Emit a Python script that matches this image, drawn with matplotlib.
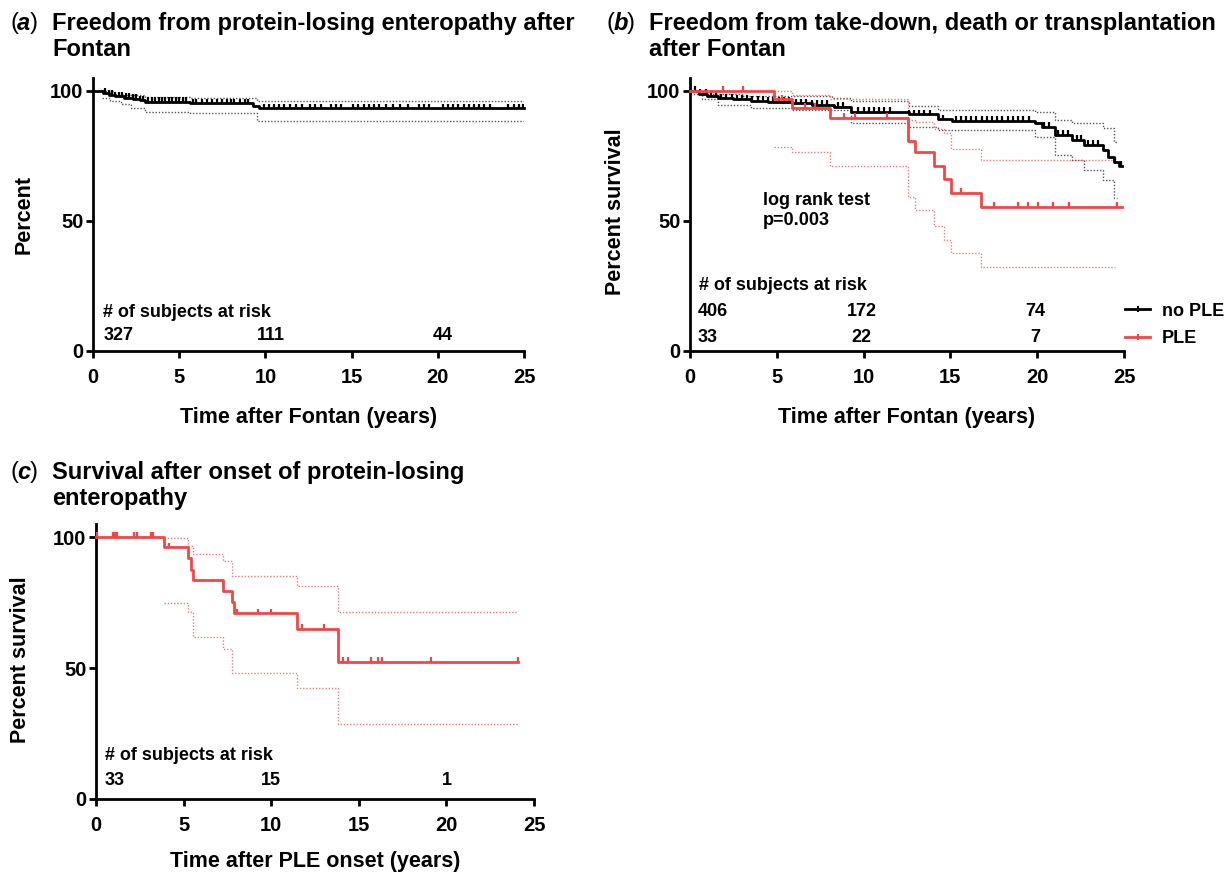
import numpy as np
import matplotlib
matplotlib.use("Agg")
import matplotlib.pyplot as plt
from matplotlib.lines import Line2D

plt.rcParams['font.family'] = ['Liberation Sans', 'DejaVu Sans']
plt.rcParams['font.weight'] = 'bold'

# ---------------- data ----------------
# Panel a: freedom from PLE after Fontan
a_t = [0, 0.6, 0.9, 1.3, 1.8, 2.3, 2.7, 3.0, 5.6, 9.3, 9.6, 25.0]
a_s = [100, 99.3, 98.6, 98.0, 97.4, 96.9, 96.4, 95.9, 95.3, 94.3, 93.3, 93.3]
a_up_t = [0.5, 1.2, 2.0, 3.0, 5.6, 9.5, 25.0]
a_up_s = [99.9, 99.0, 98.3, 97.8, 97.2, 96.3, 96.3]
a_lo_t = [0.5, 1.0, 1.6, 2.2, 3.0, 5.6, 9.5, 25.0]
a_lo_s = [97.2, 96.0, 95.0, 93.5, 92.0, 91.4, 88.6, 88.6]
a_cens = [0.7, 0.9, 1.1, 1.3, 1.5, 1.7, 1.9, 2.1, 2.3, 2.5, 2.7, 2.9,
          3.2, 3.4, 3.6, 3.8, 4.0, 4.2, 4.4, 4.6, 4.8, 5.0, 5.2, 5.4,
          5.8, 6.0, 6.3, 6.6, 6.9, 7.2, 7.5, 7.8, 8.0, 8.2, 8.5, 8.8, 9.0,
          9.9, 10.2, 10.5, 10.8, 11.1, 11.4, 11.8, 12.1, 12.6, 12.9, 13.2,
          13.8, 14.1, 14.4, 15.1, 15.4, 15.7, 16.0, 16.3, 16.6, 17.0, 17.4,
          17.8, 18.3, 18.9, 19.2, 19.5, 20.3, 20.6, 20.9, 21.2, 21.5, 21.8,
          22.1, 22.4, 22.7, 23.0, 24.1, 24.4, 24.7, 24.95]
a_risk_x = [0, 10, 20]
a_risk_n = ['327', '111', '44']

# Panel b: no PLE (black)
b0_t = [0, 0.5, 1.0, 1.6, 2.5, 3.5, 4.5, 5.9, 7.0, 8.3, 9.3, 12.6, 14.3, 15.1,
        19.9, 20.3, 21.0, 22.0, 22.7, 23.8, 24.1, 24.4, 24.7, 24.9]
b0_s = [100, 99.0, 98.2, 97.2, 96.8, 96.3, 95.8, 95.3, 94.7, 94.0, 92.0, 91.0, 89.1, 88.6,
        87.6, 86.3, 83.1, 81.2, 79.2, 77.3, 74.7, 72.8, 71.2, 71.2]
b0_up_t = [0, 1.0, 3.0, 8.2, 9.3, 12.6, 14.3, 19.9, 21.0, 22.0, 23.8, 24.4, 24.6]
b0_up_s = [100, 99.0, 98.2, 97.2, 96.0, 94.2, 92.7, 92.0, 88.8, 87.6, 85.6, 80.5, 80.5]
b0_lo_t = [0, 0.7, 1.6, 3.5, 5.9, 9.3, 12.6, 14.3, 19.9, 21.0, 22.0, 22.7, 23.8, 24.4, 24.6]
b0_lo_s = [99.0, 97.0, 94.6, 93.3, 92.7, 87.6, 86.3, 85.0, 82.4, 75.4, 73.5, 69.6, 65.8, 58.7, 58.7]
b0_cens = [0.3, 0.6, 0.9, 1.2, 1.5, 1.8, 2.1, 2.4, 2.7, 3.0, 3.3, 3.6, 3.9, 4.2, 4.5,
           4.8, 5.1, 5.4, 5.7, 6.1, 6.4, 6.7, 7.0, 7.3, 7.6, 7.9, 8.5, 8.8,
           9.7, 10.0, 10.3, 10.6, 10.9, 11.2, 11.5, 12.6, 12.9, 13.2, 13.5, 13.8,
           14.6, 15.3, 15.6, 15.9, 16.2, 16.5, 16.8, 17.1, 17.4, 17.7, 18.0, 18.3,
           18.6, 18.9, 19.2, 19.5, 20.4, 20.7, 21.2, 21.5, 21.8, 22.3, 22.5,
           22.9, 23.2, 23.5, 24.5, 24.8]
# Panel b: PLE (red)
b1_t = [0, 4.86, 5.85, 8.06, 12.57, 12.96, 14.07, 14.65, 15.01, 16.76, 24.87]
b1_s = [100, 96.8, 93.6, 89.7, 80.8, 76.7, 71.2, 66.3, 60.9, 55.5, 55.5]
b1_up_t = [4.86, 5.85, 8.06, 12.57, 12.96, 14.07, 14.65, 15.01, 16.76, 24.48]
b1_up_s = [100, 98.5, 96.8, 88.8, 88.0, 85.5, 83.7, 77.6, 73.5, 73.5]
b1_lo_t = [4.86, 5.85, 8.06, 12.57, 12.96, 14.07, 14.65, 15.01, 16.76, 24.48]
b1_lo_s = [78.6, 76.7, 71.2, 59.4, 54.2, 48.1, 42.7, 37.8, 32.2, 32.2]
b1_cens = [1.88, 3.07, 5.28, 6.62, 7.2, 8.89, 9.5, 11.33, 15.61, 17.53, 18.91,
           19.49, 20.03, 20.89, 21.83, 24.58]
b_risk_x = [0, 10, 20]
b_risk_noPLE = ['406', '172', '74']
b_risk_PLE = ['33', '22', '7']

# Panel c: survival after PLE onset
c_t = [0, 3.88, 5.23, 5.42, 5.52, 7.23, 7.78, 7.9, 11.45, 13.79, 24.07]
c_s = [100, 96.1, 91.9, 87.4, 83.6, 79.5, 75.3, 70.9, 65.1, 52.4, 52.4]
c_up_t = [3.88, 5.23, 5.52, 7.23, 7.78, 11.45, 13.79, 24.07]
c_up_s = [99.5, 96.5, 93.4, 90.8, 85.0, 81.3, 71.5, 71.5]
c_lo_t = [3.88, 5.23, 5.52, 7.23, 7.78, 11.45, 13.79, 24.07]
c_lo_s = [74.9, 71.5, 61.9, 57.3, 48.0, 42.3, 28.5, 28.5]
c_cens = [0.04, 0.95, 1.08, 1.18, 2.17, 2.32, 3.14, 3.27, 4.17, 8.03, 9.23, 9.97,
          11.76, 13.01, 14.12, 14.37, 15.7, 16.12, 16.3, 19.1, 24.07]
c_risk_x = [0, 10, 20]
c_risk_n = ['33', '15', '1']

RED = '#f44545'
RED_CI = '#f47a7a'
GREY_CI = '#555555'

TICK_FS = 14.5
LAB_FS = 15.5
TXT_FS = 13
TITLE_FS = 17

W, H = 1226, 873
fig = plt.figure(figsize=(W / 100, H / 100), dpi=100)


def fx(px):
    return px / W


def fy(py):
    return 1 - py / H


def make_ax(l, r, b, t):
    ax = fig.add_axes([fx(l), fy(b), fx(r) - fx(l), fy(t) - fy(b)])
    ax.set_xlim(0, 25)
    ax.set_ylim(0, 105)
    for s in ['top', 'right']:
        ax.spines[s].set_visible(False)
    for s in ['left', 'bottom']:
        ax.spines[s].set_linewidth(2.0)
    ax.set_xticks([0, 5, 10, 15, 20, 25])
    ax.set_yticks([0, 50, 100])
    ax.tick_params(width=2.0, length=5, labelsize=TICK_FS, direction='out')
    ax.tick_params(axis='x', pad=7)
    ax.tick_params(axis='y', pad=2)
    for lab in ax.get_xticklabels() + ax.get_yticklabels():
        lab.set_fontweight('bold')
    ax.margins(0)
    return ax


def surv_at(t, times, vals):
    i = np.searchsorted(times, t, side='right') - 1
    return vals[max(i, 0)]


def draw_km(ax, t, s, color, lw=2.0):
    ax.step(t, s, where='post', color=color, lw=lw, clip_on=False, zorder=3)


def draw_ci(ax, t, s, color):
    ax.step(t, s, where='post', color=color, lw=1.0, ls=(0, (1, 1.3)), zorder=2)


def draw_cens(ax, cens, t, s, color):
    ys = [surv_at(c, t, s) for c in cens]
    ax.vlines(cens, ys, [y + 1.8 for y in ys], color=color, lw=1.6, zorder=3)


def title(xpar, ypx, letter, text):
    fig.text(fx(xpar), fy(ypx), '(', fontsize=TITLE_FS, fontweight='normal', va='top')
    fig.text(fx(xpar + 7), fy(ypx), letter, fontsize=TITLE_FS, fontweight='bold',
             style='italic', va='top')
    fig.text(fx(xpar + 20), fy(ypx), ')', fontsize=TITLE_FS, fontweight='normal', va='top')
    fig.text(fx(xpar + 42), fy(ypx), text, fontsize=TITLE_FS, fontweight='bold',
             va='top', linespacing=1.14)


# ---------------- panel a ----------------
axa = make_ax(93, 524, 351, 78)
draw_ci(axa, a_up_t, a_up_s, GREY_CI)
draw_ci(axa, a_lo_t, a_lo_s, GREY_CI)
draw_km(axa, a_t, a_s, 'black')
draw_cens(axa, a_cens, a_t, a_s, 'black')
axa.set_ylabel('Percent', fontsize=LAB_FS, fontweight='bold')
axa.yaxis.set_label_coords(-0.135, 0.5)
axa.set_xlabel('Time after Fontan (years)', fontsize=LAB_FS, fontweight='bold')
axa.xaxis.set_label_coords(0.5, -0.205)
axa.text(0.6, 14.7, '# of subjects at risk', fontsize=TXT_FS, fontweight='bold', va='center')
for x, n in zip(a_risk_x, a_risk_n):
    if x == 0:
        axa.text(0.6, 6.0, n, fontsize=TXT_FS, fontweight='bold', va='center', ha='left')
    else:
        axa.text(x + 0.3, 6.0, n, fontsize=TXT_FS, fontweight='bold', va='center', ha='center')
title(10, 12, 'a', 'Freedom from protein-losing enteropathy after\nFontan')

# ---------------- panel b ----------------
axb = make_ax(690, 1124, 351, 78)
draw_ci(axb, b0_up_t, b0_up_s, GREY_CI)
draw_ci(axb, b0_lo_t, b0_lo_s, GREY_CI)
draw_ci(axb, b1_up_t, b1_up_s, RED_CI)
draw_ci(axb, b1_lo_t, b1_lo_s, RED_CI)
draw_km(axb, b0_t, b0_s, 'black')
draw_cens(axb, b0_cens, b0_t, b0_s, 'black')
draw_km(axb, b1_t, b1_s, RED)
draw_cens(axb, b1_cens, b1_t, b1_s, RED)
axb.set_ylabel('Percent survival', fontsize=LAB_FS, fontweight='bold')
axb.yaxis.set_label_coords(-0.147, 0.51)
axb.set_xlabel('Time after Fontan (years)', fontsize=LAB_FS, fontweight='bold')
axb.xaxis.set_label_coords(0.5, -0.205)
axb.text(4.2, 54.0, 'log rank test\np=0.003', fontsize=TXT_FS, fontweight='bold',
         va='center', linespacing=1.2)
axb.text(0.5, 25.0, '# of subjects at risk', fontsize=TXT_FS, fontweight='bold', va='center')
for x, n0, n1 in zip(b_risk_x, b_risk_noPLE, b_risk_PLE):
    if x == 0:
        axb.text(0.45, 15.0, n0, fontsize=TXT_FS, fontweight='bold', va='center', ha='left')
        axb.text(0.45, 5.0, n1, fontsize=TXT_FS, fontweight='bold', va='center', ha='left')
    else:
        axb.text(x - 0.1, 15.0, n0, fontsize=TXT_FS, fontweight='bold', va='center', ha='center')
        axb.text(x - 0.1, 5.0, n1, fontsize=TXT_FS, fontweight='bold', va='center', ha='center')
handles = [Line2D([], [], color='black', lw=2.0, marker='|', markersize=4, markeredgewidth=1.5),
           Line2D([], [], color=RED, lw=2.0, marker='|', markersize=4, markeredgewidth=1.5)]
fig.legend(handles, ['no PLE', 'PLE'], loc='center left',
           bbox_to_anchor=(fx(1125), fy(325)), frameon=False,
           prop={'size': TXT_FS, 'weight': 'bold'}, handlelength=1.4,
           handletextpad=0.65, labelspacing=0.6, borderpad=0, borderaxespad=0)
title(607, 12, 'b', 'Freedom from take-down, death or transplantation\nafter Fontan')

# ---------------- panel c ----------------
axc = make_ax(96, 534, 799, 524)
draw_ci(axc, c_up_t, c_up_s, RED_CI)
draw_ci(axc, c_lo_t, c_lo_s, RED_CI)
draw_km(axc, c_t, c_s, RED)
draw_cens(axc, c_cens, c_t, c_s, RED)
axc.set_ylabel('Percent survival', fontsize=LAB_FS, fontweight='bold')
axc.yaxis.set_label_coords(-0.148, 0.505)
axc.set_xlabel('Time after PLE onset (years)', fontsize=LAB_FS, fontweight='bold')
axc.xaxis.set_label_coords(0.5, -0.19)
axc.text(0.5, 16.5, '# of subjects at risk', fontsize=TXT_FS, fontweight='bold', va='center')
for x, n in zip(c_risk_x, c_risk_n):
    if x == 0:
        axc.text(0.5, 7.0, n, fontsize=TXT_FS, fontweight='bold', va='center', ha='left')
    else:
        axc.text(x, 7.0, n, fontsize=TXT_FS, fontweight='bold', va='center', ha='center')
title(10, 461, 'c', 'Survival after onset of protein-losing\nenteropathy')

fig.savefig('out.png', dpi=100)
